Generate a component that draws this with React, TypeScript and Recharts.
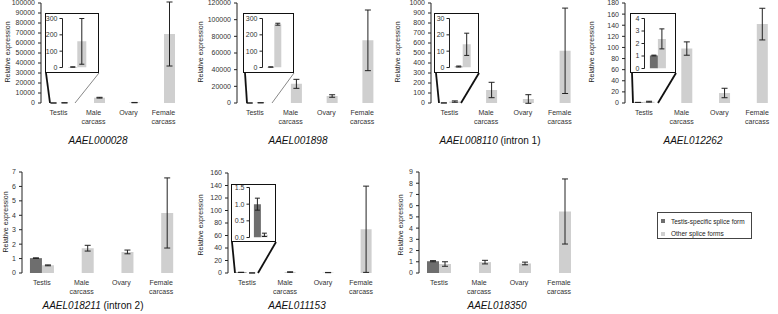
import React from "react";
import { Bar, BarChart, ErrorBar, XAxis, YAxis } from "recharts";

const categories = ["Testis", "Male carcass", "Ovary", "Female carcass"];
const legendLabels = ["Testis-specific splice form", "Other splice forms"];

// AAEL000028
const g1Specific = [3, null, null, null];
const g1SpecificErr = [1, null, null, null];
const g1Other = [160, 5300, 400, 69000];
const g1OtherErr = [140, 400, 150, 32000];
const g1Ticks = [0, 10000, 20000, 30000, 40000, 50000, 60000, 70000, 80000, 90000, 100000];
const g1InsetTicks = [0, 100, 200, 300];

// AAEL001898
const g2Specific = [3, null, null, null];
const g2SpecificErr = [1, null, null, null];
const g2Other = [265, 23000, 8400, 75200];
const g2OtherErr = [6, 5400, 1500, 36400];
const g2Ticks = [0, 20000, 40000, 60000, 80000, 100000, 120000];
const g2InsetTicks = [0, 100, 200, 300];

// AAEL008110 (intron 1)
const g3Specific = [0.6, null, null, null];
const g3SpecificErr = [0.3, null, null, null];
const g3Other = [14.2, 130, 40, 522];
const g3OtherErr = [6.8, 77, 43, 427];
const g3Ticks = [0, 100, 200, 300, 400, 500, 600, 700, 800, 900, 1000];
const g3InsetTicks = [0, 10, 20, 30];

// AAEL012262
const g4Specific = [1.04, null, null, null];
const g4SpecificErr = [0.03, null, null, null];
const g4Other = [2.37, 98, 18, 142];
const g4OtherErr = [0.8, 12, 8.5, 28.5];
const g4Ticks = [0, 20, 40, 60, 80, 100, 120, 140, 160, 180];
const g4InsetTicks = [0, 1, 2, 3, 4];

// AAEL018211 (intron 2)
const g5Specific = [1.03, null, null, null];
const g5SpecificErr = [0.02, null, null, null];
const g5Other = [0.53, 1.72, 1.46, 4.16];
const g5OtherErr = [0.03, 0.2, 0.13, 2.43];
const g5Ticks = [0, 1, 2, 3, 4, 5, 6, 7];

// AAEL011153
const g6Specific = [1.0, null, null, null];
const g6SpecificErr = [0.18, null, null, null];
const g6Other = [0.08, 1.5, 0.7, 70];
const g6OtherErr = [0.05, 0.4, 0.2, 69];
const g6Ticks = [0, 20, 40, 60, 80, 100, 120, 140, 160];
const g6InsetTicks = [0, 0.5, 1.0, 1.5];

// AAEL018350
const g7Specific = [1.05, null, null, null];
const g7SpecificErr = [0.05, null, null, null];
const g7Other = [0.8, 0.97, 0.85, 5.48];
const g7OtherErr = [0.2, 0.16, 0.12, 2.9];
const g7Ticks = [0, 1, 2, 3, 4, 5, 6, 7, 8, 9];

const DARK = "#6e6e6e";
const LIGHT = "#cfcfcf";
const INK = "#222";
const FONT = "'Liberation Sans', Arial, sans-serif";

type Inset = {
  ticks: number[];
  decimals: number;
  box: [number, number, number, number];
  axisX: number;
  top: number;
  bottom: number;
  right: number;
};

type Panel = {
  gene: string;
  note: string;
  spec: (number | null)[];
  specErr: (number | null)[];
  other: number[];
  otherErr: number[];
  ticks: number[];
  axisX: number;
  top: number;
  bottom: number;
  right: number;
  inset?: Inset;
  titleX: number;
  titleY: number;
  geneX: number;
  geneY: number;
  lines: { x1: number; y1: number; x2: number; y2: number; w: number }[];
};

const panels: Panel[] = [
  {
    gene: "AAEL000028", note: "",
    spec: g1Specific, specErr: g1SpecificErr, other: g1Other, otherErr: g1OtherErr, ticks: g1Ticks,
    axisX: 41, top: 3, bottom: 103, right: 181,
    inset: { ticks: g1InsetTicks, decimals: 0, box: [45, 13, 99, 73], axisX: 63, top: 19, bottom: 68, right: 92 },
    titleX: 7, titleY: 52, geneX: 98, geneY: 144,
    lines: [
      { x1: 46, y1: 73, x2: 50, y2: 103, w: 1.8 },
      { x1: 99, y1: 73, x2: 75, y2: 103, w: 0.7 },
    ],
  },
  {
    gene: "AAEL001898", note: "",
    spec: g2Specific, specErr: g2SpecificErr, other: g2Other, otherErr: g2OtherErr, ticks: g2Ticks,
    axisX: 237, top: 3, bottom: 103, right: 380,
    inset: { ticks: g2InsetTicks, decimals: 0, box: [243, 13, 294, 73], axisX: 263, top: 19, bottom: 68, right: 287 },
    titleX: 200, titleY: 52, geneX: 298, geneY: 144,
    lines: [
      { x1: 245, y1: 73, x2: 247, y2: 103, w: 1.8 },
      { x1: 294, y1: 73, x2: 272, y2: 103, w: 0.7 },
    ],
  },
  {
    gene: "AAEL008110", note: " (intron 1)",
    spec: g3Specific, specErr: g3SpecificErr, other: g3Other, otherErr: g3OtherErr, ticks: g3Ticks,
    axisX: 431, top: 3, bottom: 103, right: 578,
    inset: { ticks: g3InsetTicks, decimals: 0, box: [434, 13, 479, 73], axisX: 450, top: 19, bottom: 68, right: 476 },
    titleX: 397, titleY: 52, geneX: 490, geneY: 144,
    lines: [
      { x1: 436, y1: 73, x2: 439, y2: 103, w: 1.8 },
      { x1: 479, y1: 73, x2: 461, y2: 103, w: 1.8 },
    ],
  },
  {
    gene: "AAEL012262", note: "",
    spec: g4Specific, specErr: g4SpecificErr, other: g4Other, otherErr: g4OtherErr, ticks: g4Ticks,
    axisX: 625, top: 3, bottom: 103, right: 776,
    inset: { ticks: g4InsetTicks, decimals: 0, box: [630, 13, 676, 73], axisX: 645, top: 19, bottom: 69, right: 672 },
    titleX: 591, titleY: 52, geneX: 693, geneY: 144,
    lines: [
      { x1: 632, y1: 73, x2: 633, y2: 103, w: 1.8 },
      { x1: 676, y1: 73, x2: 658, y2: 103, w: 1.8 },
    ],
  },
  {
    gene: "AAEL018211", note: " (intron 2)",
    spec: g5Specific, specErr: g5SpecificErr, other: g5Other, otherErr: g5OtherErr, ticks: g5Ticks,
    axisX: 22, top: 172, bottom: 273, right: 181,
    titleX: 5, titleY: 222, geneX: 93, geneY: 309,
    lines: [],
  },
  {
    gene: "AAEL011153", note: "",
    spec: g6Specific, specErr: g6SpecificErr, other: g6Other, otherErr: g6OtherErr, ticks: g6Ticks,
    axisX: 228, top: 173, bottom: 273, right: 380,
    inset: { ticks: g6InsetTicks, decimals: 1, box: [231, 184, 276, 242], axisX: 250, top: 188, bottom: 238, right: 272 },
    titleX: 200, titleY: 225, geneX: 297, geneY: 309,
    lines: [
      { x1: 232, y1: 242, x2: 235, y2: 273, w: 1.8 },
      { x1: 276, y1: 242, x2: 258, y2: 273, w: 1.8 },
    ],
  },
  {
    gene: "AAEL018350", note: "",
    spec: g7Specific, specErr: g7SpecificErr, other: g7Other, otherErr: g7OtherErr, ticks: g7Ticks,
    axisX: 419, top: 172, bottom: 273, right: 579,
    titleX: 400, titleY: 225, geneX: 497, geneY: 309,
    lines: [],
  },
];

function rowsFor(p: Panel) {
  return categories.map((name, i) => ({
    name,
    specific: p.spec[i],
    specificErr: p.specErr[i],
    other: p.other[i],
    otherErr: p.otherErr[i],
  }));
}

function CatTick(props: any) {
  const { x, y, payload } = props;
  const words = String(payload.value).split(" ");
  return (
    <text x={x} y={y} textAnchor="middle" fontSize={7} fill="#333" fontFamily={FONT}>
      {words.map((w, i) => (
        <tspan key={i} x={x} dy={i === 0 ? 11.5 : 9}>
          {w}
        </tspan>
      ))}
    </text>
  );
}

const tickStyle = { fontSize: 7, fill: "#333", fontFamily: FONT };

function MainChart({ p }: { p: Panel }) {
  const ox = p.axisX - 40;
  const oy = p.top - 6;
  const W = p.right - ox + 6;
  const H = p.bottom - oy + 30;
  const rows = rowsFor(p);
  const max = p.ticks[p.ticks.length - 1];
  return (
    <div style={{ position: "absolute", left: ox, top: oy }}>
      <BarChart width={W} height={H} data={rows} margin={{ top: 6, right: 6, left: 0, bottom: 4 }} barCategoryGap="20%" barGap={0}>
        <XAxis xAxisId="edge" type="number" domain={[0, 4]} ticks={[0, 1, 2, 3, 4]} tick={false} tickSize={3} height={0} stroke={INK} allowDataOverflow />
        <XAxis xAxisId="cat" dataKey="name" axisLine={false} tickLine={false} tickSize={0} tickMargin={0} height={26} interval={0} tick={<CatTick />} />
        <YAxis domain={[0, max]} ticks={p.ticks} width={40} tickSize={3} tickMargin={3} stroke={INK} tick={tickStyle} interval={0} allowDataOverflow />
        <Bar xAxisId="cat" dataKey="specific" fill={DARK} isAnimationActive={false}>
          <ErrorBar dataKey="specificErr" width={3} stroke={INK} strokeWidth={1} />
        </Bar>
        <Bar xAxisId="cat" dataKey="other" fill={LIGHT} isAnimationActive={false}>
          <ErrorBar dataKey="otherErr" width={3} stroke={INK} strokeWidth={1} />
        </Bar>
      </BarChart>
    </div>
  );
}

function InsetChart({ p, inset }: { p: Panel; inset: Inset }) {
  const b = 1.5;
  const [x1, y1, x2, y2] = inset.box;
  const cx = x1 + b;
  const cy = y1 + b;
  const cw = x2 - x1 - 2 * b;
  const ch = y2 - y1 - 2 * b;
  const rows = rowsFor(p).slice(0, 1);
  const max = inset.ticks[inset.ticks.length - 1];
  return (
    <div
      style={{
        position: "absolute",
        left: x1,
        top: y1,
        width: x2 - x1,
        height: y2 - y1,
        boxSizing: "border-box",
        border: `${b}px solid #111`,
        background: "#fff",
      }}
    >
      <BarChart
        width={cw}
        height={ch}
        data={rows}
        margin={{ top: inset.top - cy, right: cx + cw - inset.right, left: 0, bottom: cy + ch - inset.bottom }}
        barCategoryGap="20%"
        barGap={0}
      >
        <XAxis xAxisId="edge" type="number" domain={[0, 1]} ticks={[0, 1]} tick={false} tickSize={3} height={0} stroke={INK} allowDataOverflow />
        <XAxis xAxisId="cat" dataKey="name" hide />
        <YAxis
          domain={[0, max]}
          ticks={inset.ticks}
          width={inset.axisX - cx}
          tickSize={3}
          tickMargin={2}
          stroke={INK}
          tick={tickStyle}
          interval={0}
          tickFormatter={(v: number) => v.toFixed(inset.decimals)}
          allowDataOverflow
        />
        <Bar xAxisId="cat" dataKey="specific" fill={DARK} isAnimationActive={false}>
          <ErrorBar dataKey="specificErr" width={2.5} stroke={INK} strokeWidth={1} />
        </Bar>
        <Bar xAxisId="cat" dataKey="other" fill={LIGHT} isAnimationActive={false}>
          <ErrorBar dataKey="otherErr" width={2.5} stroke={INK} strokeWidth={1} />
        </Bar>
      </BarChart>
    </div>
  );
}

export default function App() {
  return (
    <div style={{ position: "absolute", left: 0, top: 0, width: 778, height: 314, background: "#fff", fontFamily: FONT, overflow: "hidden" }}>
      <style>{`.recharts-surface { overflow: visible; }`}</style>
      {panels.map((p) => (
        <MainChart key={p.gene} p={p} />
      ))}
      {panels.map((p) => (p.inset ? <InsetChart key={p.gene + "-inset"} p={p} inset={p.inset} /> : null))}
      <svg width={778} height={314} style={{ position: "absolute", left: 0, top: 0, pointerEvents: "none" }}>
        {panels.map((p) => (
          <g key={p.gene + "-deco"} fontFamily={FONT}>
            <text
              transform={`translate(${p.titleX},${p.titleY}) rotate(-90)`}
              textAnchor="middle"
              dominantBaseline="central"
              fontSize={7}
              fill="#222"
            >
              Relative expression
            </text>
            <text x={p.geneX} y={p.geneY} textAnchor="middle" fontSize={10} fill="#111">
              <tspan fontStyle="italic">{p.gene}</tspan>
              {p.note ? <tspan>{p.note}</tspan> : null}
            </text>
            {p.lines.map((l, i) => (
              <line key={i} x1={l.x1} y1={l.y1} x2={l.x2} y2={l.y2} stroke={l.w > 1 ? "#111" : "#555"} strokeWidth={l.w} />
            ))}
          </g>
        ))}
      </svg>
      <div
        style={{
          position: "absolute",
          left: 657,
          top: 212,
          width: 95,
          height: 27,
          boxSizing: "border-box",
          border: "1px solid #444",
          background: "#fff",
          fontSize: 6.5,
          color: "#222",
        }}
      >
        {legendLabels.map((label, i) => (
          <div key={label} style={{ position: "absolute", left: 3, top: i === 0 ? 4 : 16.5, height: 8, display: "flex", alignItems: "center", whiteSpace: "nowrap" }}>
            <span style={{ display: "inline-block", width: 4, height: 4, background: i === 0 ? DARK : LIGHT, marginRight: 6 }} />
            {label}
          </div>
        ))}
      </div>
    </div>
  );
}
